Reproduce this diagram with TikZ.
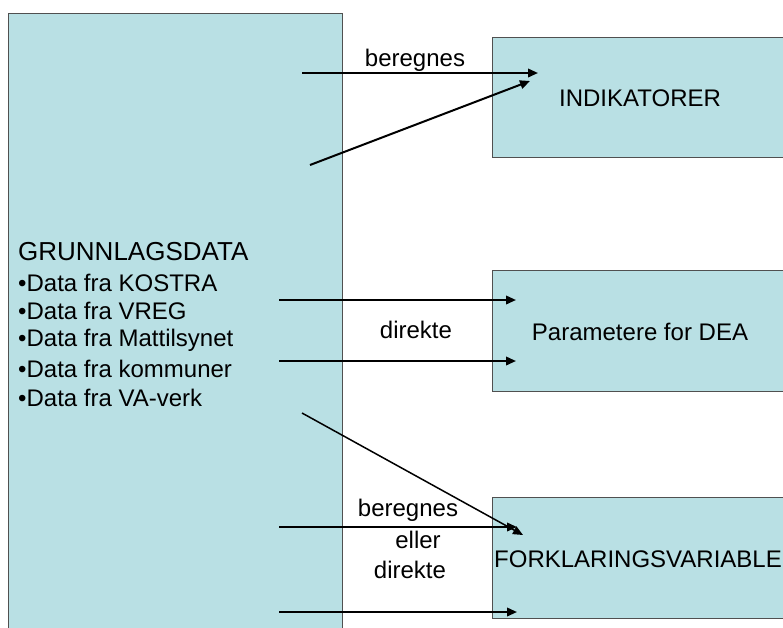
\documentclass[tikz,border=0pt]{standalone}
\usepackage{fontspec}
\setmainfont{Liberation Sans}
\usetikzlibrary{arrows.meta}
\definecolor{boxfill}{RGB}{185,224,228}
\definecolor{boxline}{RGB}{80,80,80}
\begin{document}
\begin{tikzpicture}[x=1pt,y=-1pt,
  panel/.style={draw=boxline,fill=boxfill,line width=0.9pt,inner sep=0pt,outer sep=0pt,anchor=north west},
  arr/.style={-{Triangle[length=10pt,width=8.5pt]},line width=2pt},
  thinarr/.style={-{Triangle[length=10pt,width=8.5pt]},line width=1.5pt},
  txt/.style={font=\fontsize{24}{28}\selectfont,inner sep=0pt},
  ttl/.style={font=\fontsize{26}{30}\selectfont,inner sep=0pt},
]
\useasboundingbox (0,0) rectangle (783,627);
\clip (0,0) rectangle (783,627);
% boxes
\node[panel,minimum width=333.5pt,minimum height=627pt] (src) at (8.5,13) {};
\node[panel,minimum width=300pt,minimum height=120pt] (ind) at (492.5,37) {};
\node[panel,minimum width=300pt,minimum height=121pt] (par) at (492.5,270) {};
\node[panel,minimum width=300pt,minimum height=121pt] (fork) at (492.5,497) {};
% texts
\node[ttl,anchor=west] (t0) at (18,252) {GRUNNLAGSDATA};
\node[txt,anchor=west] (t1) at (18,283) {•Data fra KOSTRA};
\node[txt,anchor=west] (t2) at (18,311) {•Data fra VREG};
\node[txt,anchor=west] (t3) at (18,340) {•Data fra Mattilsynet};
\node[txt,anchor=west] (t4) at (18,369) {•Data fra kommuner};
\node[txt,anchor=west] (t5) at (18,398) {•Data fra VA-verk};
\node[txt] (indt) at (640,98) {INDIKATORER};
\node[txt] (part) at (640,332) {Parametere for DEA};
\node[txt,anchor=west] (forkt) at (494,559) {FORKLARINGSVARIABLE};
% labels
\node[txt] (l1) at (415,60) {beregnes};
\node[txt] (l2) at (416,330) {direkte};
\node[txt] (l3) at (408,510) {beregnes};
\node[txt] (l4) at (418,540) {eller};
\node[txt] (l5) at (410,570) {direkte};
% arrow end points
\coordinate (a1s) at (302,73);  \coordinate (a1e) at (538,73);
\coordinate (a2s) at (310,165); \coordinate (a2e) at (530,81);
\coordinate (a3s) at (279,300); \coordinate (a3e) at (516,300);
\coordinate (a4s) at (279,361); \coordinate (a4e) at (516,361);
\coordinate (a5s) at (302,413); \coordinate (a5e) at (523,535);
\coordinate (a6s) at (279,527); \coordinate (a6e) at (517,527);
\coordinate (a7s) at (279,612); \coordinate (a7e) at (517,612);
\draw[arr] (a1s) -- (a1e);
\draw[arr] (a2s) -- (a2e);
\draw[arr] (a3s) -- (a3e);
\draw[arr] (a4s) -- (a4e);
\draw[thinarr] (a5s) -- (a5e);
\draw[arr] (a6s) -- (a6e);
\draw[arr] (a7s) -- (a7e);
\end{tikzpicture}
\end{document}
